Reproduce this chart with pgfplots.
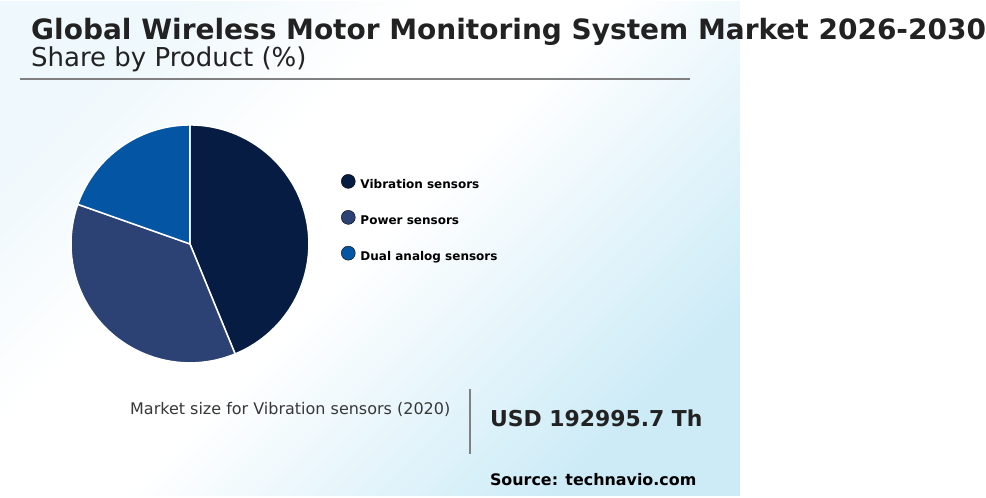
\documentclass[border=0pt]{standalone}
\usepackage{pgfplots}
\pgfplotsset{compat=1.18}
\usepackage{fontspec}
\setmainfont{DejaVu Sans}

\definecolor{c1}{HTML}{071C42}
\definecolor{c2}{HTML}{2C4274}
\definecolor{c3}{HTML}{0455A4}
\definecolor{txt}{HTML}{222222}
\definecolor{bgA}{HTML}{EFF8FC}
\definecolor{bgB}{HTML}{CCEBF7}

% background: light blue top-left, white middle, cyan bottom-right
\pgfdeclareverticalshading{bgshade}{100bp}{color(0bp)=(bgB); color(25bp)=(bgB);
  color(50bp)=(white); color(61bp)=(white); color(75bp)=(bgA); color(100bp)=(bgA)}

\newcommand{\fs}[1]{\fontsize{#1}{#1}\selectfont}

\begin{document}
\begin{tikzpicture}
% canvas: 1pt = 1px, y counted from the bottom
\path (0pt,0pt) rectangle (986pt,498pt);
\shade[shading=bgshade, shading angle=45] (0pt,2pt) rectangle (740pt,496pt);

% titles
\node[anchor=base west, inner sep=0pt, text=txt, font=\bfseries\fs{28}]
  at (31pt,458pt) {Global Wireless Motor Monitoring System Market 2026-2030};
\node[anchor=base west, inner sep=0pt, text=txt, font=\fs{26}]
  at (31pt,431pt) {Share by Product (\%)};
\draw[color=gray, line width=2pt] (20pt,419pt) -- (690pt,419pt);

% pie
\begin{axis}[
    at={(190pt,254pt)}, anchor=center,
    scale only axis, width=238pt, height=238pt,
    xmin=-1, xmax=1, ymin=-1, ymax=1,
    hide axis, clip=false,
    legend image code/.code={\fill[#1] (7pt,3.5pt) circle[radius=7pt];},
    legend cell align=left,
    legend style={
        at={(1.1345,0.794)}, anchor=north west,
        draw=none, fill=none, inner sep=0pt,
        row sep=18pt, column sep=3pt,
        font=\bfseries\fs{12},
    },
]
\def\ang{90}
\foreach \v/\c in {43.8/c1, 36.6/c2, 19.6/c3}{
    \pgfmathsetmacro\endang{\ang-3.6*\v}
    \edef\temp{\noexpand\filldraw[fill=\c, draw=white, line width=1.5pt]
        (axis cs:0,0) -- ++(\ang:119pt)
        arc[start angle=\ang, end angle=\endang, radius=119pt] -- cycle;}
    \temp
    \xdef\ang{\endang}
}
\addlegendimage{fill=c1}\addlegendentry{Vibration sensors}
\addlegendimage{fill=c2}\addlegendentry{Power sensors}
\addlegendimage{fill=c3}\addlegendentry{Dual analog sensors}
\end{axis}

% bottom block
\node[anchor=base west, inner sep=0pt, text=txt!90, font=\fs{16}]
  at (130pt,83pt) {Market size for Vibration sensors (2020)};
\draw[color=gray, line width=1.5pt] (470pt,109pt) -- (470pt,44pt);
\node[anchor=base west, inner sep=0pt, text=txt, font=\bfseries\fs{21.9}]
  at (490pt,71pt) {USD 192995.7 Th};
\node[anchor=base west, inner sep=0pt, text=black, font=\bfseries\fs{15.9}]
  at (490pt,12pt) {Source: technavio.com};
\end{tikzpicture}
\end{document}
